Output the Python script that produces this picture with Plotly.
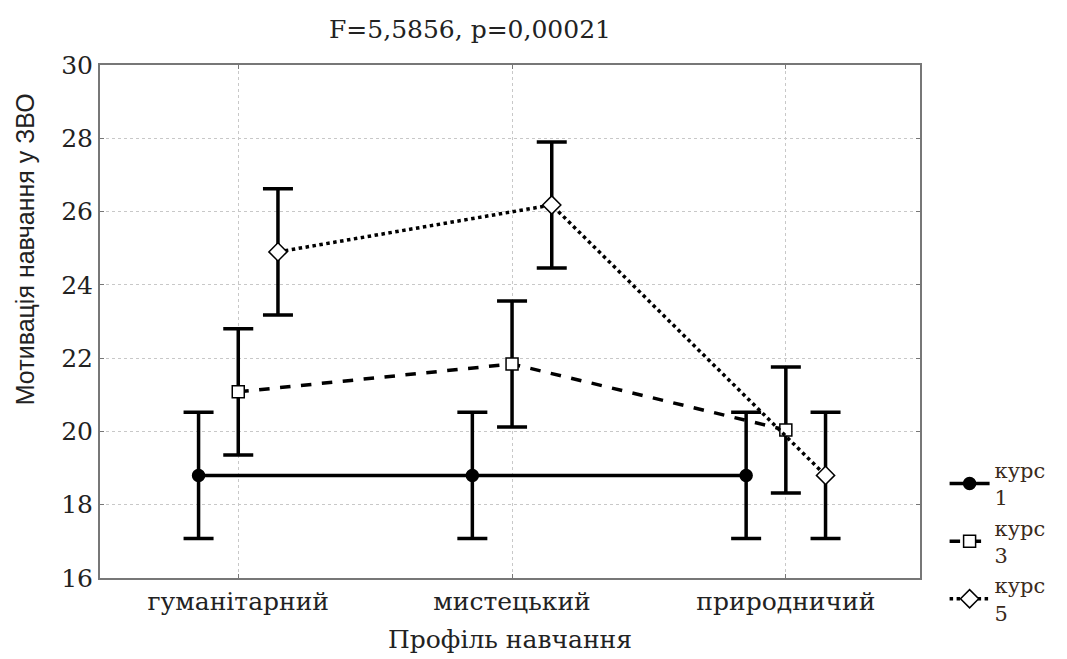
import plotly.graph_objects as go

categories = ["гуманітарний", "мистецький", "природничий"]
series_names = ["курс<br>1", "курс<br>3", "курс<br>5"]
kurs1 = [18.8, 18.8, 18.8]
kurs3 = [21.08, 21.84, 20.04]
kurs5 = [24.9, 26.18, 18.8]
err1 = [1.72, 1.72, 1.72]
err3 = [1.72, 1.72, 1.72]
err5 = [1.72, 1.72, 1.72]
offsets = [-0.145, 0.0, 0.145]
yticks = [16, 18, 20, 22, 24, 26, 28, 30]

SERIF = "DejaVu Serif"
SANS = "Liberation Sans"
series = [
    (kurs1, err1, "solid", dict(symbol="circle", color="black", size=12, line=dict(color="black", width=1.5))),
    (kurs3, err3, "dash", dict(symbol="square", color="white", size=12, line=dict(color="black", width=1.5))),
    (kurs5, err5, "dot", dict(symbol="diamond", color="white", size=14, line=dict(color="black", width=1.5))),
]

fig = go.Figure()
for (vals, errs, dash, marker), name, off in zip(series, series_names, offsets):
    xs = [i + off for i in range(len(categories))]
    fig.add_trace(go.Scatter(
        x=xs, y=vals, name=name, mode="lines+markers",
        line=dict(color="black", width=3.5, dash=dash),
        marker=marker,
        error_y=dict(type="data", array=errs, visible=True, color="black", thickness=3.5, width=15),
    ))

fig.update_layout(
    width=1067, height=659,
    paper_bgcolor="white", plot_bgcolor="white",
    margin=dict(l=92, r=155, t=57, b=89),
    font=dict(family=SERIF, size=20, color="#222"),
    title=dict(text="F=5,5856, p=0,00021", x=0.433, xanchor="center", y=1 - 21 / 659,
               yanchor="middle", font=dict(family=SERIF, size=25, color="#222")),
    showlegend=True,
    legend=dict(x=1.03, xanchor="left", y=0.25, yanchor="top", bgcolor="rgba(0,0,0,0)",
                font=dict(family=SERIF, size=21, color="#3a2a1a"), tracegroupgap=2,
                itemwidth=40),
)
fig.update_xaxes(
    range=[-0.505, 2.49], tickvals=list(range(len(categories))), ticktext=categories,
    showgrid=True, gridcolor="#c8c8c8", griddash="dot", gridwidth=1,
    showline=True, linecolor="#777", linewidth=2, mirror="ticks",
    ticks="inside", ticklen=4, tickcolor="#777", zeroline=False,
    tickfont=dict(family=SERIF, size=25, color="#222"),
    title=dict(text="Профіль навчання", font=dict(family=SERIF, size=25, color="#222"), standoff=15),
)
fig.update_yaxes(
    range=[16, 30], tickvals=yticks,
    showgrid=True, gridcolor="#c8c8c8", griddash="dot", gridwidth=1,
    showline=True, linecolor="#777", linewidth=2, mirror="ticks",
    ticks="inside", ticklen=4, tickcolor="#777", zeroline=False,
    tickfont=dict(family=SERIF, size=25, color="#222"),
)
fig.add_annotation(
    text="Мотивація навчання у ЗВО", xref="paper", yref="paper",
    x=-0.092, y=0.64, textangle=-90, showarrow=False,
    font=dict(family=SANS, size=25, color="#222"), xanchor="center", yanchor="middle",
)
fig.write_html("out.html")
